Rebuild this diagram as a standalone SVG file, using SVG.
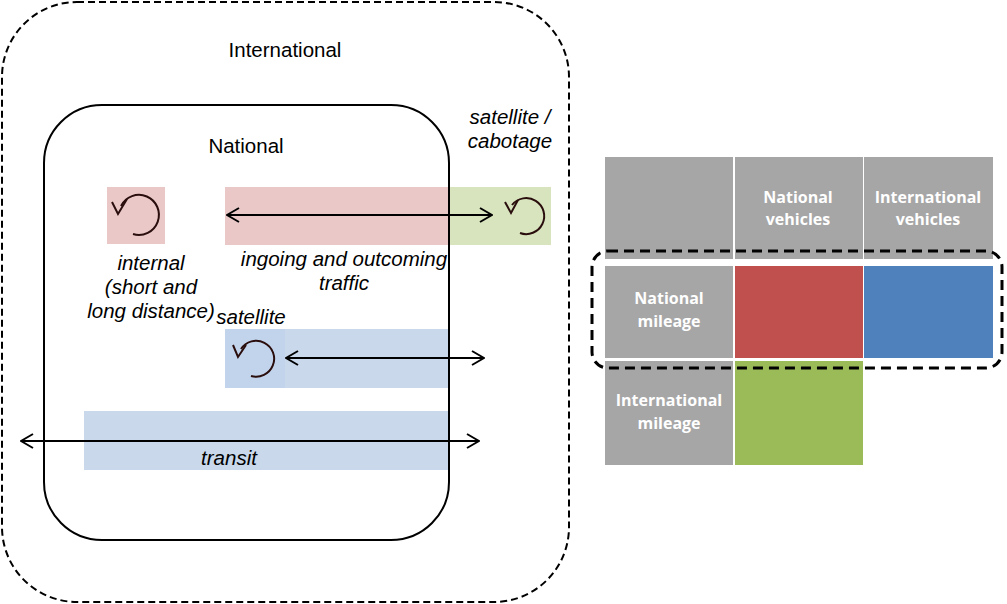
<svg xmlns="http://www.w3.org/2000/svg" width="1007" height="604" viewBox="0 0 1007 604">
<style>
.lbl{font-family:"Liberation Sans",Arial,sans-serif;font-size:20.5px;fill:#000;text-anchor:middle}
.it{font-style:italic}
.cell{font-family:"Open Sans","Liberation Sans",sans-serif;font-weight:bold;font-size:16px;fill:#fff;text-anchor:middle}
.ln{stroke:#000;stroke-width:2;fill:none}
.dash{stroke:#000;stroke-width:2;fill:none;stroke-dasharray:7,4}
.loop{stroke:#2a0e0e;stroke-width:2;fill:none}
</style>
<defs>
<marker id="ah" viewBox="0 0 14 16" refX="13" refY="8" markerWidth="14" markerHeight="16" markerUnits="userSpaceOnUse" orient="auto-start-reverse">
<path d="M1,1 L13,8 L1,15" fill="none" stroke="#000" stroke-width="2"/>
</marker>
</defs>
<rect width="1007" height="604" fill="#fff"/>
<g id="international">
<rect x="2" y="2" width="567" height="600" rx="75" class="dash"/>
<text x="285" y="57" class="lbl">International</text>
</g>
<g id="bands">
<rect x="107" y="187" width="58" height="57" fill="#ebc8c8"/>
<rect x="225" y="187" width="224" height="58" fill="#ebc8c8"/>
<rect x="449" y="187" width="102" height="58" fill="#d7e4bd"/>
<rect x="225" y="329" width="224" height="59" fill="#c9d8eb"/>
<rect x="225" y="329" width="60" height="59" fill="#c2d4ec"/>
<rect x="84" y="411" width="365" height="59" fill="#c9d8eb"/>
</g>
<g id="national">
<rect x="44" y="105" width="405" height="435" rx="58" class="ln"/>
<text x="246" y="153" class="lbl">National</text>
</g>
<g id="connectors">
<line x1="227" y1="215" x2="492" y2="215" class="ln" marker-start="url(#ah)" marker-end="url(#ah)"/>
<line x1="286" y1="358" x2="484" y2="358" class="ln" marker-start="url(#ah)" marker-end="url(#ah)"/>
<line x1="21" y1="441" x2="479" y2="441" class="ln" marker-start="url(#ah)" marker-end="url(#ah)"/>
<path d="M121,206 A20,20 0 1 1 133,234" class="loop"/>
<path d="M112,202 L118,214 L127,199" class="loop"/>
<path d="M512,205 A18,18 0 1 1 520,233" class="loop"/>
<path d="M505,202 L511,213 L518,200" class="loop"/>
<path d="M241,349 A18,18 0 1 1 251,376" class="loop"/>
<path d="M233,345 L238,357 L246,345" class="loop"/>
</g>
<g id="labels">
<text x="510" y="124" class="lbl it">satellite /</text>
<text x="510" y="148" class="lbl it">cabotage</text>
<text x="151" y="270" class="lbl it">internal</text>
<text x="151" y="294" class="lbl it">(short and</text>
<text x="151" y="318" class="lbl it">long distance)</text>
<text x="344" y="266" class="lbl it">ingoing and outcoming</text>
<text x="344" y="290" class="lbl it">traffic</text>
<text x="251" y="324" class="lbl it">satellite</text>
<text x="229" y="465" class="lbl it">transit</text>
</g>
<g id="table">
<rect x="605" y="157" width="128" height="102" fill="#a6a6a6"/>
<rect x="735" y="157" width="128" height="102" fill="#a6a6a6"/>
<rect x="864" y="157" width="129" height="102" fill="#a6a6a6"/>
<rect x="605" y="266" width="128" height="92" fill="#a6a6a6"/>
<rect x="735" y="266" width="128" height="92" fill="#c0504d"/>
<rect x="864" y="266" width="129" height="92" fill="#4f81bd"/>
<rect x="605" y="361" width="128" height="104" fill="#a6a6a6"/>
<rect x="735" y="361" width="128" height="104" fill="#9bbb59"/>
<text x="798" y="203" class="cell">National</text>
<text x="798" y="225" class="cell">vehicles</text>
<text x="928" y="203" class="cell">International</text>
<text x="928" y="225" class="cell">vehicles</text>
<text x="669" y="304" class="cell">National</text>
<text x="669" y="327" class="cell">mileage</text>
<text x="669" y="406" class="cell">International</text>
<text x="669" y="429" class="cell">mileage</text>
</g>
<g id="selection">
<rect x="592" y="251" width="410" height="117" rx="16" fill="none" stroke="#000" stroke-width="3" stroke-dasharray="10,6"/>
</g>
</svg>
